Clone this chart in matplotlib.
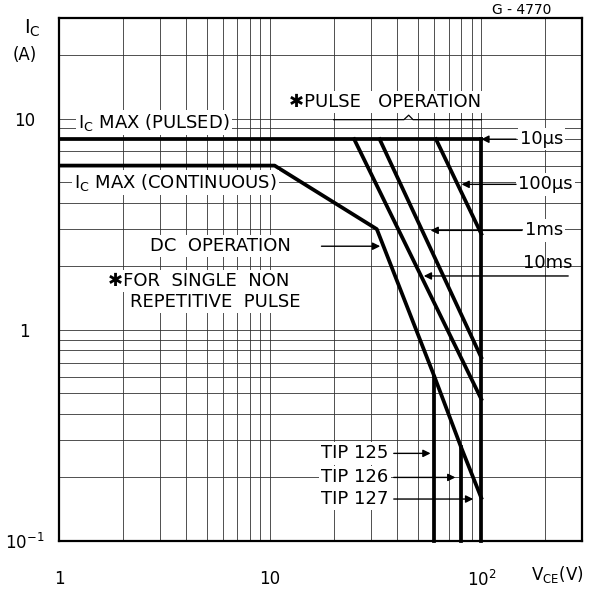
import matplotlib
matplotlib.use("Agg")
import matplotlib.pyplot as plt

# safe operating area, TIP 125/126/127
vce_pulsed = [1, 100]
ic_pulsed = [8, 8]

vce_dc = [1, 10.5, 32, 60, 80, 100]
ic_dc = [6, 6, 3.0, 0.6, 0.28, 0.16]

vce_10ms = [25, 100]
ic_10ms = [8, 0.47]
vce_1ms = [33, 100]
ic_1ms = [8, 0.74]
vce_100us = [61, 100]
ic_100us = [8, 2.85]

tip_names = ["TIP 125", "TIP 126", "TIP 127"]
tip_vceo = [60, 80, 100]
tip_top = [0.6, 0.28, 8]

xticks = [1, 10, 100]
xlabels = ["1", "10", r"$10^2$"]
yticks = [0.1, 1, 10]
ylabels = [r"$10^{-1}$", "1", "10"]

plt.rcParams["mathtext.default"] = "regular"

fig = plt.figure(figsize=(5.98, 5.95), dpi=100)
ax = fig.add_axes([0.0987, 0.0908, 0.8746, 0.8789])
ax.set_xscale("log")
ax.set_yscale("log")
ax.set_xlim(1, 300)
ax.set_ylim(0.1, 30)

ax.grid(which="both", color="0.2", lw=0.6)
ax.set_axisbelow(True)
for s in ax.spines.values():
    s.set_linewidth(1.6)

ax.set_xticks(xticks)
ax.set_xticklabels(xlabels)
ax.set_yticks(yticks)
ax.set_yticklabels(ylabels, ha="center")
ax.tick_params(which="both", length=0)
ax.tick_params(axis="x", pad=21, labelsize=12)
ax.tick_params(axis="y", pad=25, labelsize=12)
ax.xaxis.set_minor_formatter(plt.NullFormatter())
ax.yaxis.set_minor_formatter(plt.NullFormatter())

lw = 2.7
ax.plot(vce_pulsed, ic_pulsed, color="k", lw=lw)
ax.plot(vce_dc, ic_dc, color="k", lw=lw)
ax.plot(vce_10ms, ic_10ms, color="k", lw=lw)
ax.plot(vce_1ms, ic_1ms, color="k", lw=lw)
ax.plot(vce_100us, ic_100us, color="k", lw=lw)
for v, top in zip(tip_vceo, tip_top):
    ax.plot([v, v], [0.1, top], color="k", lw=lw, clip_on=False)

wb = dict(fc="white", ec="none", pad=1.5)
fs = 13

ax.text(1.23, 9.6, r"I$_C$ MAX (PULSED)", fontsize=fs, va="center", bbox=wb)
ax.text(1.18, 5.0, r"I$_C$ MAX (CONTINUOUS)", fontsize=fs, va="center", bbox=wb)
ax.text(2.69, 2.49, "DC  OPERATION", fontsize=fs, va="center", bbox=wb)
ax.text(1.70, 1.70, "✱FOR  SINGLE  NON", fontsize=fs, va="center", bbox=wb)
ax.text(2.16, 1.36, "REPETITIVE  PULSE", fontsize=fs, va="center", bbox=wb)
ax.text(12.3, 12.0, "✱PULSE   OPERATION", fontsize=fs, va="center", bbox=wb)
ax.plot([20, 43, 45.3, 47.5, 100], [9.9, 9.9, 10.4, 9.9, 9.9], color="k", lw=0.9)

arrow = dict(arrowstyle="-|>", color="k", lw=1.0, mutation_scale=11, shrinkA=0, shrinkB=0)

ax.annotate("", xy=(33.2, 2.49), xytext=(17.5, 2.49), arrowprops=arrow)

# pulse duration labels on the right
ax.text(152, 8.0, "10µs", fontsize=fs, va="center", bbox=wb)
ax.annotate("", xy=(100, 8.0), xytext=(146, 8.0), arrowprops=arrow)
ax.text(149, 4.89, "100µs", fontsize=fs, va="center", bbox=wb)
ax.annotate("", xy=(80.6, 4.89), xytext=(146, 4.89), arrowprops=arrow)
ax.text(161, 2.96, "1ms", fontsize=fs, va="center", bbox=wb)
ax.annotate("", xy=(57.5, 2.96), xytext=(156, 2.96), arrowprops=arrow)
ax.text(158, 2.08, "10ms", fontsize=fs, va="center")
ax.annotate("", xy=(53.4, 1.80), xytext=(258, 1.80), arrowprops=arrow)

# device labels
tip_y = [0.26, 0.20, 0.158]
tip_tip = [57.5, 75.4, 91.6]
for name, yy, xt in zip(tip_names, tip_y, tip_tip):
    ax.text(36.4, yy, name, fontsize=fs, va="center", ha="right", bbox=wb)
    ax.annotate("", xy=(xt, yy), xytext=(38.5, yy), arrowprops=arrow)

fig.text(0.873, 0.983, "G - 4770", fontsize=10, ha="center", va="center")
fig.text(0.054, 0.953, r"I$_C$", fontsize=14, ha="center", va="center")
fig.text(0.042, 0.908, "(A)", fontsize=12, ha="center", va="center")
fig.text(0.931, 0.034, r"V$_{CE}$(V)", fontsize=12, ha="center", va="center")

fig.savefig("out.png", dpi=100)
